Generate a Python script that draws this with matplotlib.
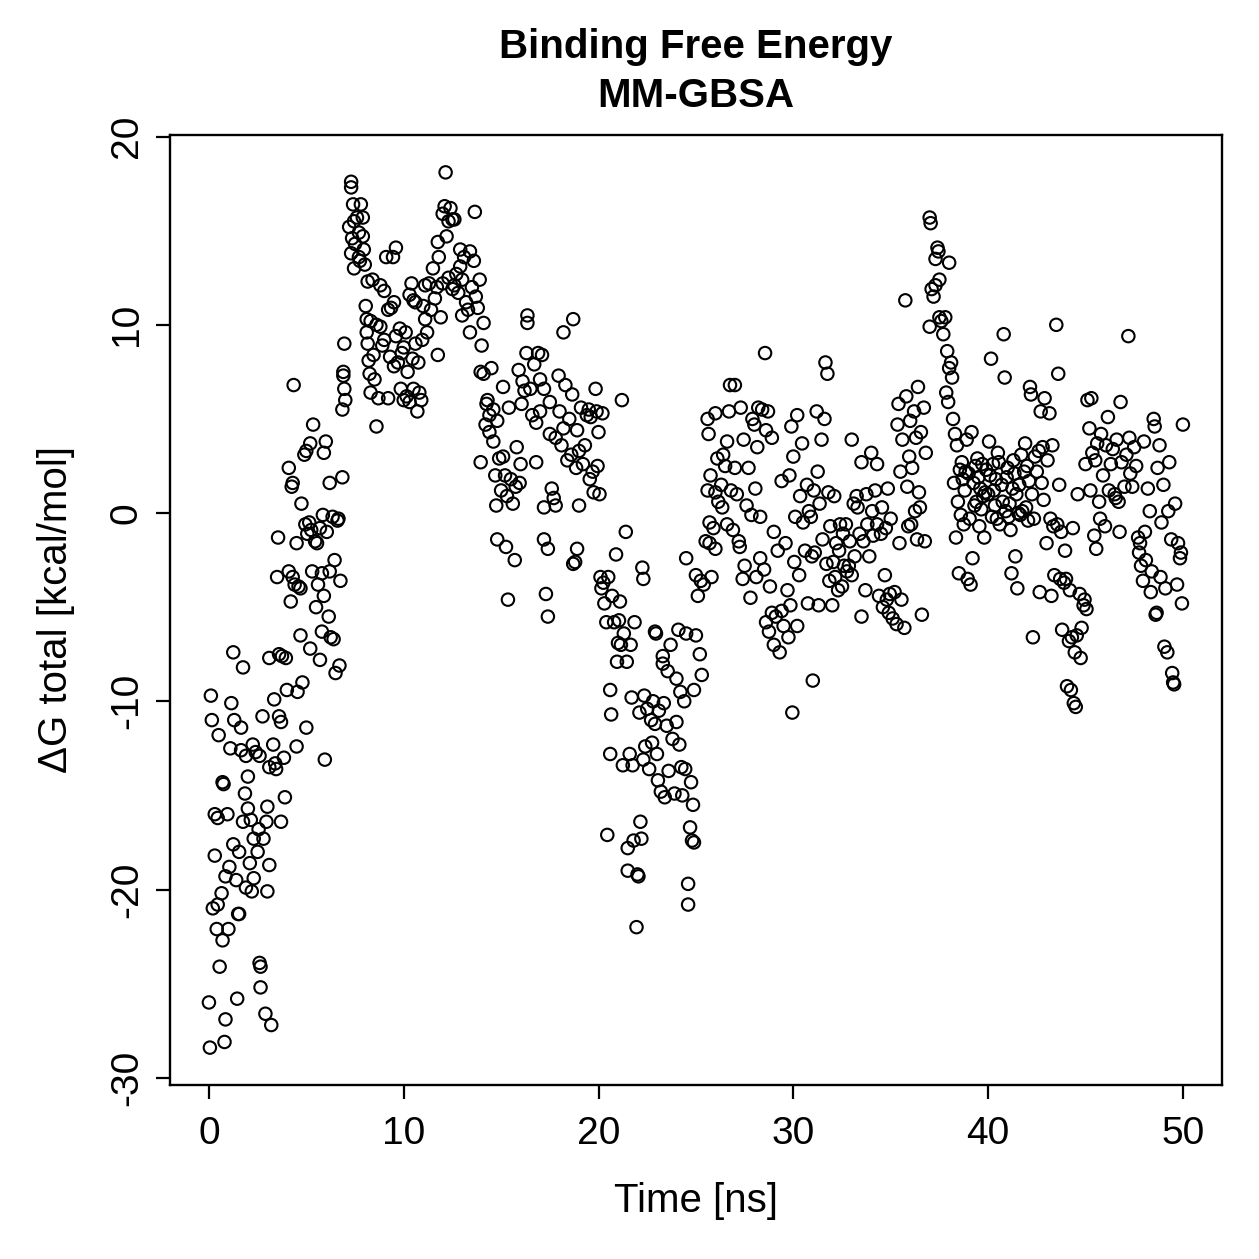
import matplotlib
matplotlib.use("Agg")
import matplotlib.pyplot as plt

# Binding free energy (MM-GBSA) vs time
# each segment: (time [ns], dG total [kcal/mol])
seg_00_04 = [(0.0,-26.0),(0.05,-28.4),(0.1,-9.7),(0.15,-11.0),(0.3,-16.0),(0.3,-18.2),(0.2,-21.0),(0.45,-20.8),
             (0.45,-16.2),(0.4,-22.1),(0.5,-11.8),(0.55,-24.1),(0.65,-20.2),(0.7,-22.7),(0.7,-14.3),(0.75,-14.4),
             (0.8,-28.1),(0.85,-26.9),(0.85,-19.3),(0.95,-16.0),(1.0,-22.1),(1.05,-18.8),(1.1,-12.5),(1.15,-10.1),
             (1.25,-7.4),(1.25,-17.6),(1.3,-11.0),(1.4,-19.5),(1.45,-25.8),(1.5,-21.3),(1.55,-21.3),(1.55,-18.0),
             (1.65,-11.4),(1.65,-12.6),(1.75,-8.2),(1.75,-16.4),(1.85,-14.9),(1.9,-12.9),(1.9,-19.9),(2.0,-15.7),
             (2.0,-14.0),(2.1,-18.6),(2.15,-16.3),(2.2,-20.1),(2.25,-12.3),(2.3,-17.3),(2.3,-19.4),(2.4,-12.7),
             (2.5,-18.0),(2.55,-16.8),(2.6,-12.9),(2.6,-23.9),(2.65,-24.1),(2.65,-25.2),(2.75,-10.8),(2.8,-17.3),
             (2.9,-26.6),(2.95,-16.4),(3.0,-15.6),(3.0,-20.1),(3.1,-18.7),(3.1,-7.7),(3.1,-13.5),(3.2,-27.2),
             (3.3,-12.3),(3.35,-9.9),(3.4,-13.3),(3.45,-13.6),(3.5,-3.4),(3.55,-1.3),(3.6,-7.5),(3.6,-10.8),
             (3.7,-11.1),(3.7,-16.4),(3.75,-7.6),(3.85,-13.0),(3.9,-15.1),(3.95,-7.7),(4.0,-9.4)]
seg_04_07 = [(4.1,2.4),(4.1,-3.1),(4.2,-4.7),(4.25,1.4),(4.3,1.6),(4.3,-3.4),(4.35,6.8),(4.4,-3.8),(4.5,-12.4),
             (4.5,-1.6),(4.55,-9.5),(4.6,-3.9),(4.7,-6.5),(4.7,-4.0),(4.75,0.5),(4.8,-9.0),(4.9,3.1),(4.95,-0.6),
             (5.0,-11.4),(5.0,3.3),(5.05,-1.1),(5.2,-7.2),(5.15,-0.5),(5.2,3.7),(5.25,-0.9),(5.3,-3.1),(5.35,4.7),
             (5.45,-1.5),(5.5,-5.0),(5.55,-1.6),(5.6,-3.8),(5.7,-7.8),(5.7,-0.8),(5.8,-6.3),(5.8,-3.2),(5.85,-0.1),
             (5.9,-4.4),(5.9,3.2),(5.95,-13.1),(6.0,3.8),(6.05,-1.0),(6.15,-5.5),(6.2,1.6),(6.2,-3.1),(6.25,-6.6),
             (6.35,-0.2),(6.4,-6.7),(6.45,-2.5),(6.5,-8.5),(6.6,-0.4),(6.65,-0.3),(6.7,-8.1),(6.75,-3.6),(6.85,1.9),
             (6.9,7.5),(6.9,7.3),(6.95,9.0),(6.95,6.6),(7.0,6.0),(6.85,5.5)]
seg_07_12 = [(7.2,15.2),(7.3,17.6),(7.3,17.3),(7.35,14.6),(7.4,16.4),(7.45,15.5),(7.3,13.8),(7.45,13.0),(7.5,14.3),
             (7.6,15.7),(7.7,14.9),(7.7,13.6),(7.75,13.4),(7.8,16.4),(7.9,15.7),(7.9,14.7),(7.95,14.0),(8.0,13.2),
             (8.05,11.0),(8.1,10.3),(8.1,9.6),(8.15,12.3),(8.15,9.0),(8.2,8.1),(8.25,7.4),(8.3,6.4),(8.4,12.4),
             (8.3,10.2),(8.45,8.4),(8.5,7.1),(8.6,4.6),(8.6,10.0),(8.7,6.1),(8.8,12.1),(8.8,9.9),(8.9,8.9),(9.0,11.8),
             (9.0,9.2),(9.1,13.6),(9.2,10.8),(9.2,6.1),(9.3,8.3),(9.35,10.9),(9.45,13.6),(9.5,11.2),(9.5,7.8),
             (9.6,14.1),(9.6,9.4),(9.7,8.0),(9.8,9.8),(9.85,6.6),(9.9,8.5),(10.0,6.0),(10.0,8.8),(10.1,9.6),
             (10.15,6.2),(10.2,7.5),(10.3,11.6),(10.3,5.9),(10.4,12.2),(10.45,8.2),(10.5,11.3),(10.5,6.6),
             (10.6,11.2),(10.6,9.0),(10.7,5.4),(10.75,8.0),(10.8,6.4),(10.9,6.0),(10.95,9.2),(11.0,11.0),
             (11.1,12.1),(11.1,10.3),(11.2,9.6),(11.3,12.2),(11.4,10.8),(11.5,13.0),(11.6,11.4),(11.7,12.0),
             (11.75,14.4),(11.75,8.4),(11.8,13.6),(11.9,10.4),(12.0,12.2),(12.0,15.9),(12.1,16.3),(12.15,18.1),
             (12.2,14.7),(12.3,15.5),(12.3,12.5),(12.4,16.2),(12.5,15.6),(12.5,11.9),(12.6,15.6),(12.6,12.1)]
seg_12_17 = [(12.7,12.7),(12.8,11.7),(12.9,13.1),(12.9,14.0),(13.0,12.4),(13.0,10.5),(13.1,13.6),(13.2,11.2),
             (13.3,10.8),(13.4,13.9),(13.4,9.6),(13.5,12.0),(13.6,13.4),(13.65,16.0),(13.7,11.5),(13.8,10.9),
             (13.9,12.4),(13.95,7.5),(13.95,2.7),(14.0,8.9),(14.1,7.4),(14.1,10.1),(14.2,4.7),(14.25,5.8),(14.3,6.0),
             (14.4,5.2),(14.4,4.3),(14.5,7.7),(14.6,3.8),(14.6,5.5),(14.7,2.0),(14.75,0.4),(14.8,4.9),(14.8,-1.4),
             (14.9,2.9),(15.0,1.2),(15.1,3.0),(15.1,6.7),(15.2,2.0),(15.25,-1.8),(15.3,0.9),(15.35,-4.6),(15.4,5.6),
             (15.5,1.8),(15.6,0.5),(15.7,-2.5),(15.75,1.4),(15.8,3.5),(15.9,7.6),(15.95,1.6),(16.0,2.6),(16.05,5.8),
             (16.1,7.0),(16.2,6.5),(16.3,8.5),(16.35,10.5),(16.35,10.1),(16.5,6.6),(16.6,5.2),(16.7,7.9),(16.8,2.7),
             (16.8,4.8),(16.9,8.5),(17.0,7.1),(17.0,5.4)]
seg_17_21 = [(17.1,8.4),(17.2,6.6),(17.2,0.3),(17.2,-1.4),(17.3,-4.3),(17.4,-1.9),(17.4,-5.5),(17.5,4.2),(17.5,5.9),
             (17.6,1.3),(17.7,0.8),(17.8,4.0),(17.8,0.4),(17.95,7.3),(18.0,5.4),(18.1,3.6),(18.2,9.6),(18.2,4.5),
             (18.3,6.8),(18.4,2.8),(18.5,5.0),(18.6,3.1),(18.65,6.3),(18.7,10.3),(18.7,-2.7),(18.8,-2.6),(18.85,2.4),
             (18.9,-1.9),(18.9,4.4),(19.0,3.3),(19.0,0.4),(19.1,5.6),(19.2,2.6),(19.3,3.6),(19.4,5.2),(19.5,5.5),
             (19.55,1.8),(19.6,5.1),(19.7,2.2),(19.75,1.1),(19.85,6.6),(19.9,5.4),(19.95,2.5),(20.0,4.3),(20.05,1.0),
             (20.1,-3.4),(20.15,-4.0),(20.2,5.3),(20.25,-3.7),(20.3,-4.8),(20.4,-5.8),(20.45,-17.1),(20.5,-3.4),
             (20.6,-12.8),(20.6,-9.4),(20.65,-10.7),(20.7,-4.4),(20.8,-5.8),(20.9,-2.2),(20.95,-7.9),(21.0,-6.9)]
seg_21_25 = [(21.05,-5.7),(21.1,-4.7),(21.15,-7.0),(21.2,6.0),(21.25,-13.4),(21.3,-6.4),(21.4,-1.0),(21.45,-7.9),
             (21.5,-17.8),(21.5,-19.0),(21.6,-12.8),(21.65,-7.0),(21.7,-9.8),(21.75,-13.4),(21.8,-17.4),(21.85,-5.8),
             (21.95,-22.0),(22.0,-19.2),(22.05,-19.3),(22.1,-10.6),(22.15,-16.4),(22.2,-17.3),(22.25,-2.9),
             (22.3,-3.5),(22.3,-13.1),(22.35,-9.7),(22.4,-12.4),(22.5,-10.4),(22.6,-13.6),(22.7,-11.0),
             (22.75,-12.2),(22.8,-10.0),(22.9,-6.3),(22.9,-11.2),(22.95,-6.4),(23.0,-12.8),(23.05,-14.2),
             (23.1,-10.5),(23.2,-14.8),(23.3,-7.6),(23.3,-8.0),(23.35,-10.1),(23.4,-15.1),(23.5,-11.3),(23.55,-8.4),
             (23.6,-13.7),(23.7,-7.0),(23.8,-12.0),(23.9,-14.9),(24.0,-8.8),(24.0,-11.1),(24.1,-6.2),(24.15,-12.3),
             (24.2,-9.5),(24.25,-13.5),(24.3,-15.0),(24.4,-10.0),(24.45,-13.6),(24.5,-6.4),(24.5,-2.4),(24.6,-19.7),
             (24.6,-20.8),(24.7,-16.7),(24.75,-14.3),(24.8,-17.4),(24.85,-15.5),(24.9,-17.5),(24.9,-9.4),
             (25.0,-6.5),(25.0,-3.3),(25.1,-4.4),(25.2,-7.5),(25.25,-3.6),(25.3,-8.6),(25.4,-3.8)]
seg_25_30 = [(25.5,-1.5),(25.6,5.0),(25.6,1.2),(25.65,4.2),(25.7,-0.5),(25.7,-1.6),(25.75,2.0),(25.8,-3.4),
             (25.9,-0.8),(26.0,5.3),(26.0,1.1),(26.0,-1.9),(26.1,2.9),(26.15,0.6),(26.3,1.5),(26.35,0.3),(26.4,3.1),
             (26.5,2.5),(26.6,3.8),(26.6,-0.6),(26.7,5.4),(26.75,6.8),(26.8,1.2),(26.9,-0.9),(27.0,6.8),(27.0,2.4),
             (27.1,1.0),(27.2,-1.5),(27.25,-1.8),(27.3,5.6),(27.4,-3.5),(27.45,3.9),(27.5,-2.8),(27.6,0.4),(27.7,2.4),
             (27.8,-4.5),(27.85,-0.1),(27.9,5.0),(28.0,4.7),(28.05,1.3),(28.1,-3.4),(28.15,3.5),(28.2,5.6),
             (28.3,-2.4),(28.3,-0.2),(28.4,5.5),(28.5,-3.0),(28.55,8.5),(28.6,4.4),(28.6,-5.8),(28.7,5.4),
             (28.75,-6.3),(28.8,-3.9),(28.9,4.0),(28.9,-5.3),(29.0,-7.0),(29.0,-1.0),(29.1,-5.5),(29.2,-2.0),
             (29.3,-7.4),(29.4,1.7),(29.4,-5.2),(29.5,-6.0),(29.6,-1.6),(29.7,-4.1),(29.75,-6.6),(29.8,2.0),
             (29.85,-4.9),(29.9,4.6),(29.95,-10.6),(30.0,3.0),(30.05,-2.6)]
seg_30_35 = [(30.1,-0.2),(30.2,5.2),(30.2,-6.0),(30.3,-3.3),(30.35,0.9),(30.45,3.7),(30.5,-0.5),(30.6,-2.0),
             (30.7,1.5),(30.75,-4.8),(30.8,0.1),(30.9,-0.2),(30.95,-2.3),(31.0,-8.9),(31.05,1.2),(31.1,-2.1),
             (31.2,5.4),(31.25,2.2),(31.3,-4.9),(31.35,0.5),(31.45,3.9),(31.5,-1.4),(31.6,5.0),(31.65,8.0),
             (31.7,-2.7),(31.75,7.4),(31.8,1.1),(31.85,-3.6),(31.9,-0.7),(32.0,-4.9),(32.05,-2.6),(32.1,0.9),
             (32.15,-3.4),(32.2,-1.6),(32.3,-4.1),(32.35,-2.0),(32.4,-0.6),(32.5,-3.9),(32.55,-1.1),(32.6,-2.8),
             (32.7,-0.6),(32.75,-3.1),(32.85,-2.8),(32.9,-1.5),(33.0,3.9),(33.0,-3.3),(33.1,0.5),(33.15,-2.3),
             (33.25,0.9),(33.3,0.3),(33.4,-1.1),(33.5,-5.5),(33.5,2.7),(33.6,-1.5),(33.7,-4.1),(33.75,1.0),
             (33.8,-0.6),(33.9,-2.3),(34.0,3.2),(34.05,0.1),(34.1,-1.2),(34.2,1.2),(34.3,2.6),(34.3,-0.6),
             (34.4,-4.4),(34.5,-1.1),(34.55,0.3),(34.6,-5.0),(34.7,-3.3),(34.75,-0.8),(34.8,-4.6),(34.85,1.3),
             (34.9,-5.3),(34.95,-4.3),(35.0,-0.3)]
seg_35_39 = [(35.1,-5.6),(35.2,-4.2),(35.3,-5.9),(35.35,4.7),(35.4,5.8),(35.45,-1.6),(35.5,2.2),(35.55,-4.6),
             (35.6,3.9),(35.7,-6.1),(35.75,11.3),(35.8,6.2),(35.85,1.4),(35.9,-0.7),(35.95,3.0),(36.0,4.9),
             (36.05,-0.6),(36.1,2.4),(36.2,5.4),(36.25,0.1),(36.3,4.0),(36.35,-1.4),(36.4,6.7),(36.45,1.1),
             (36.5,0.3),(36.55,4.3),(36.6,-5.4),(36.7,5.6),(36.75,-1.5),(36.8,3.2),(37.0,15.7),(37.05,15.4),
             (37.0,9.9),(37.1,11.9),(37.2,11.5),(37.3,12.1),(37.3,13.5),(37.4,14.1),(37.45,13.9),(37.5,12.4),
             (37.5,10.4),(37.6,10.2),(37.7,9.5),(37.8,10.4),(37.85,6.4),(37.9,8.6),(37.95,5.9),(38.0,13.3),
             (38.0,7.7),(38.1,8.0),(38.15,7.2),(38.2,5.0),(38.25,1.6),(38.3,4.2),(38.35,-1.3),(38.4,3.6),
             (38.45,0.6),(38.5,-3.2),(38.55,2.3),(38.6,-0.1),(38.65,2.7),(38.7,1.8),(38.75,-0.6),(38.8,1.2),
             (38.85,2.2),(38.9,3.9),(38.95,-3.5)]
seg_39_44 = [(39.0,2.1),(39.05,-0.3),(39.1,-3.8),(39.15,4.3),(39.2,-2.4),(39.25,1.6),(39.3,0.4),(39.35,2.5),
             (39.4,0.6),(39.45,2.9),(39.5,1.9),(39.55,-0.7),(39.6,1.3),(39.65,0.2),(39.7,2.6),(39.75,0.9),
             (39.8,-1.3),(39.85,1.1),(39.9,2.3),(40.0,1.0),(40.05,3.8),(40.1,2.0),(40.15,8.2),(40.2,-0.2),
             (40.25,2.6),(40.3,1.2),(40.35,0.4),(40.4,1.8),(40.45,-0.3),(40.5,3.2),(40.55,2.7),(40.6,-0.6),
             (40.7,1.5),(40.75,0.6),(40.8,9.5),(40.85,7.2),(40.9,0.1),(40.95,1.9),(41.0,2.4),(41.05,-0.2),
             (41.1,0.5),(41.15,-0.9),(41.2,-3.2),(41.25,1.3),(41.3,2.8),(41.35,2.1),(41.4,-2.3),(41.45,1.0),
             (41.5,-4.0),(41.55,0.0),(41.6,1.5),(41.65,-0.1),(41.7,3.1),(41.75,0.1),(41.85,2.2),(41.9,3.7),
             (41.95,0.3),(42.0,2.5),(42.05,-0.4),(42.1,1.7),(42.15,6.7),(42.2,6.3),(42.25,1.0),(42.3,-6.6),
             (42.35,-0.3),(42.4,3.0),(42.5,2.2),(42.6,3.3),(42.65,-4.2),(42.7,5.4),(42.75,1.6),(42.8,3.5),
             (42.85,0.7),(42.9,6.1),(43.0,-1.6),(43.05,2.8),(43.15,5.3),(43.2,-0.3),(43.25,-4.4),(43.3,3.6),
             (43.35,-0.7),(43.4,-3.3),(43.5,10.0),(43.55,-0.6),(43.6,7.4),(43.65,1.5),(43.7,-3.5),(43.75,-1.0),
             (43.8,-6.2),(43.9,-3.7),(43.95,-2.0),(44.0,-3.5),(44.05,-9.2),(44.15,-6.8),(44.2,-4.1),(44.25,-9.4),
             (44.3,-6.6),(44.35,-0.8),(44.4,-10.1),(44.45,-7.4),(44.5,-10.3),(44.55,-6.5),(44.6,1.0)]
seg_44_50 = [(44.7,-4.3),(44.75,-7.7),(44.8,-6.1),(44.9,-4.9),(44.95,-4.6),(45.0,2.6),(45.05,-5.1),(45.1,6.0),
             (45.2,4.5),(45.25,1.2),(45.3,6.1),(45.35,3.2),(45.45,-1.2),(45.5,2.8),(45.55,-1.9),(45.6,3.7),
             (45.7,0.6),(45.75,-0.3),(45.8,4.2),(45.9,2.0),(46.0,-0.7),(46.05,3.6),(46.15,5.1),(46.2,1.2),
             (46.3,2.6),(46.4,3.4),(46.5,1.0),(46.55,0.8),(46.6,3.9),(46.7,0.6),(46.75,-1.0),(46.8,5.9),
             (46.85,2.7),(47.0,1.4),(47.1,3.1),(47.2,9.4),(47.25,4.0),(47.3,2.1),(47.4,1.4),(47.5,3.5),(47.6,2.5),
             (47.7,-1.3),(47.75,-2.1),(47.8,-1.6),(47.85,-2.8),(47.95,-3.6),(48.0,3.8),(48.05,-1.0),(48.1,-2.5),
             (48.2,1.3),(48.3,0.1),(48.35,-4.2),(48.4,-3.1),(48.5,5.0),(48.55,4.6),(48.6,-5.4),(48.65,-5.3),
             (48.7,2.4),(48.8,3.6),(48.85,-3.4),(48.9,-0.5),(49.0,1.5),(49.05,-7.1),(49.1,-4.0),(49.2,-7.4),
             (49.25,0.1),(49.3,2.7),(49.4,-1.4),(49.45,-8.5),(49.5,-9.0),(49.55,-9.1),(49.6,0.5),(49.7,-3.8),
             (49.75,-1.6),(49.85,-2.4),(49.9,-2.1),(49.95,-4.8),(50.0,4.7)]

segments = [seg_00_04, seg_04_07, seg_07_12, seg_12_17, seg_17_21, seg_21_25,
            seg_25_30, seg_30_35, seg_35_39, seg_39_44, seg_44_50]
time_ns = [p[0] for s in segments for p in s]
dg_total = [p[1] for s in segments for p in s]

xticks = [0, 10, 20, 30, 40, 50]
yticks = [-30, -20, -10, 0, 10, 20]

plt.rcParams['font.family'] = ['Liberation Sans', 'DejaVu Sans']
plt.rcParams['font.size'] = 14
plt.rcParams['axes.unicode_minus'] = False  # R draws a plain hyphen

fig = plt.figure(figsize=(6.295, 6.295), dpi=200)
ax = fig.add_axes([0.135, 0.138, 0.8355, 0.755])

ax.scatter(time_ns, dg_total, s=20, facecolors='none', edgecolors='black', linewidths=0.75)

ax.set_xlim(-2, 52)
ax.set_ylim(-30.4, 20.1)
ax.set_xticks(xticks)
ax.set_yticks(yticks)
ax.tick_params(direction='out', length=5, width=0.8, pad=6, labelsize=14)
ax.tick_params(axis='y', labelrotation=90, pad=4)
for lab in ax.get_yticklabels():
    lab.set_va('center')
for sp in ax.spines.values():
    sp.set_linewidth(0.85)

ax.set_title("Binding Free Energy\nMM-GBSA", fontweight='bold', fontsize=14.5, pad=10, linespacing=1.35)
ax.set_xlabel("Time [ns]", fontsize=14.5, va='center')
ax.set_ylabel("ΔG total [kcal/mol]", fontsize=14.5, va='center')
ax.xaxis.set_label_coords(0.5, -0.122)
ax.yaxis.set_label_coords(-0.108, 0.5)

fig.savefig("out.png", dpi=200)
